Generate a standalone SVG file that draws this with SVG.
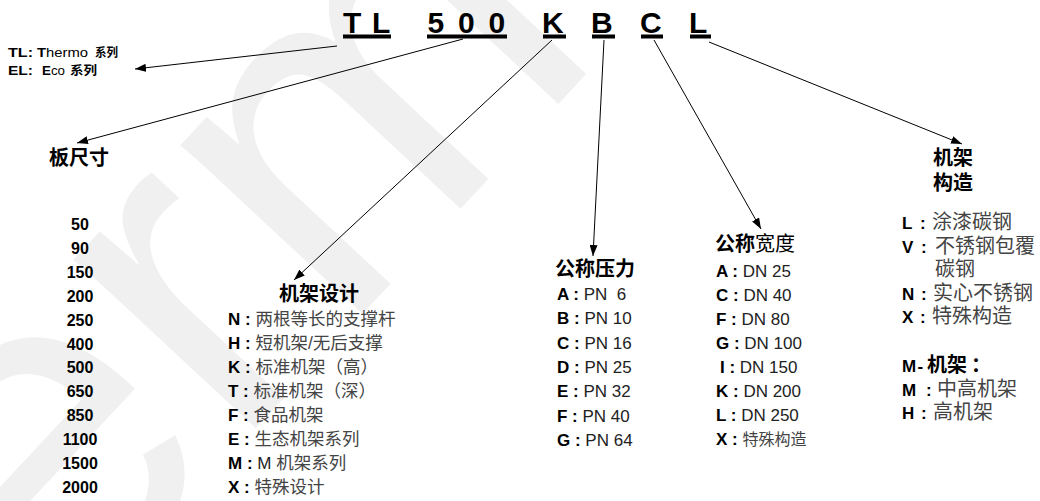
<svg xmlns="http://www.w3.org/2000/svg" width="1040" height="501" viewBox="0 0 1040 501">
<style>
text{font-family:"Liberation Sans","Noto Sans CJK SC",Arial,sans-serif;fill:#000}
.hdr{font-size:30px;font-weight:bold}
.ttl{font-size:20px;font-weight:bold}
.num{font-size:16px;font-weight:bold;text-anchor:middle}
.row{font-size:17px}
.k{font-weight:bold;fill:#000}
.v{font-weight:normal;fill:#222}
.cf{font-size:17.5px;fill:#444}
.cw{font-size:16px;fill:#444}
.cs{font-size:20px;fill:#444}
.sm{font-size:12.5px}
.b{font-weight:bold}
.wm{font-size:470px;fill:#f0f0f0}
.ln{stroke:#000;stroke-width:1;fill:none;marker-end:url(#ah)}
</style>
<defs>
<marker id="ah" markerUnits="userSpaceOnUse" markerWidth="11" markerHeight="8" refX="11" refY="4" orient="auto">
<path d="M0,0 L11,4 L0,8 Z" fill="#000"/>
</marker>
</defs>
<rect width="1040" height="501" fill="#fff"/>
<g id="watermark"><text class="wm" transform="translate(-212,930) rotate(-47)">thermo</text></g>

<g id="code">
<text class="hdr" x="343 372 427.5 458 488.5 542 591 640 689" y="32.5">TL500KBCL</text>
<rect x="343" y="34.5" width="48" height="4"/>
<rect x="427" y="34.5" width="80" height="4"/>
<rect x="543" y="34.5" width="23" height="4"/>
<rect x="592" y="34.5" width="23" height="4"/>
<rect x="641" y="34.5" width="22" height="4"/>
<rect x="690" y="34.5" width="21" height="4"/>
</g>

<g id="connectors">
<line class="ln" x1="337" y1="46" x2="135" y2="69"/>
<line class="ln" x1="463" y1="39" x2="77" y2="143"/>
<line class="ln" x1="552" y1="40" x2="294" y2="280"/>
<line class="ln" x1="604" y1="40" x2="593" y2="256"/>
<line class="ln" x1="654" y1="40" x2="761" y2="229"/>
<line class="ln" x1="709" y1="42" x2="962" y2="144"/>
</g>

<g id="series">
<text class="sm b" x="8" y="57" textLength="25" lengthAdjust="spacingAndGlyphs">TL:</text>
<text class="sm" x="37" y="57" textLength="51" lengthAdjust="spacingAndGlyphs"><tspan class="b">T</tspan>hermo</text>
<text class="sm b" x="95" y="57" textLength="23" lengthAdjust="spacingAndGlyphs">系列</text>
<text class="sm b" x="8" y="75" textLength="25" lengthAdjust="spacingAndGlyphs">EL:</text>
<text class="sm" x="42" y="75" textLength="23" lengthAdjust="spacingAndGlyphs"><tspan class="b">E</tspan>co</text>
<text class="sm b" x="70" y="75" textLength="27" lengthAdjust="spacingAndGlyphs">系列</text>
</g>

<g id="plate-size">
<text class="ttl" x="49" y="165">板尺寸</text>
<text class="num" x="80" y="230">50</text>
<text class="num" x="80" y="254">90</text>
<text class="num" x="80" y="278">150</text>
<text class="num" x="80" y="302">200</text>
<text class="num" x="80" y="326">250</text>
<text class="num" x="80" y="350">400</text>
<text class="num" x="80" y="373">500</text>
<text class="num" x="80" y="397">650</text>
<text class="num" x="80" y="421">850</text>
<text class="num" x="80" y="445">1100</text>
<text class="num" x="80" y="469">1500</text>
<text class="num" x="80" y="493">2000</text>
</g>

<g id="frame-design">
<text class="ttl" x="319" y="301" text-anchor="middle">机架设计</text>
<text class="row" x="228" y="325"><tspan class="k">N : </tspan><tspan class="cf">两根等长的支撑杆</tspan></text>
<text class="row" x="228" y="349"><tspan class="k">H : </tspan><tspan class="cf">短机架/无后支撑</tspan></text>
<text class="row" x="228" y="373"><tspan class="k">K : </tspan><tspan class="cf">标准机架（高）</tspan></text>
<text class="row" x="228" y="397"><tspan class="k">T : </tspan><tspan class="cf">标准机架（深）</tspan></text>
<text class="row" x="228" y="421"><tspan class="k">F : </tspan><tspan class="cf">食品机架</tspan></text>
<text class="row" x="228" y="445"><tspan class="k">E : </tspan><tspan class="cf">生态机架系列</tspan></text>
<text class="row" x="228" y="469"><tspan class="k">M : </tspan><tspan class="v">M </tspan><tspan class="cf">机架系列</tspan></text>
<text class="row" x="228" y="493"><tspan class="k">X : </tspan><tspan class="cf">特殊设计</tspan></text>
</g>

<g id="pressure">
<text class="ttl" x="555" y="276">公称压力</text>
<text class="row" x="557" y="300"><tspan class="k">A : </tspan><tspan class="v">PN&#160;&#160;6</tspan></text>
<text class="row" x="557" y="324"><tspan class="k">B : </tspan><tspan class="v">PN 10</tspan></text>
<text class="row" x="557" y="349"><tspan class="k">C : </tspan><tspan class="v">PN 16</tspan></text>
<text class="row" x="557" y="373"><tspan class="k">D : </tspan><tspan class="v">PN 25</tspan></text>
<text class="row" x="557" y="397"><tspan class="k">E : </tspan><tspan class="v">PN 32</tspan></text>
<text class="row" x="557" y="422"><tspan class="k">F : </tspan><tspan class="v">PN 40</tspan></text>
<text class="row" x="557" y="446"><tspan class="k">G : </tspan><tspan class="v">PN 64</tspan></text>
</g>

<g id="width">
<text class="ttl" x="715" y="251">公称<tspan font-weight="normal">宽度</tspan></text>
<text class="row" x="716" y="277"><tspan class="k">A : </tspan><tspan class="v">DN 25</tspan></text>
<text class="row" x="716" y="301"><tspan class="k">C : </tspan><tspan class="v">DN 40</tspan></text>
<text class="row" x="716" y="325"><tspan class="k">F : </tspan><tspan class="v">DN 80</tspan></text>
<text class="row" x="716" y="349"><tspan class="k">G : </tspan><tspan class="v">DN 100</tspan></text>
<text class="row" x="720" y="373"><tspan class="k">I : </tspan><tspan class="v">DN 150</tspan></text>
<text class="row" x="716" y="397"><tspan class="k">K : </tspan><tspan class="v">DN 200</tspan></text>
<text class="row" x="716" y="421"><tspan class="k">L : </tspan><tspan class="v">DN 250</tspan></text>
<text class="row" x="716" y="445"><tspan class="k">X : </tspan><tspan class="cw">特殊构造</tspan></text>
</g>

<g id="structure">
<text class="ttl" x="953" y="165" text-anchor="middle">机架</text>
<text class="ttl" x="953" y="190" text-anchor="middle">构造</text>
<text class="row" y="229"><tspan class="k" x="902">L</tspan><tspan class="k" x="920">:</tspan><tspan class="cs" x="932">涂漆碳钢</tspan></text>
<text class="row" y="253"><tspan class="k" x="902">V</tspan><tspan class="k" x="921">:</tspan><tspan class="cs" x="935">不锈钢包覆</tspan></text>
<text class="row" y="276"><tspan class="cs" x="935">碳钢</tspan></text>
<text class="row" y="300"><tspan class="k" x="902">N</tspan><tspan class="k" x="921">:</tspan><tspan class="cs" x="933">实心不锈钢</tspan></text>
<text class="row" y="323"><tspan class="k" x="902">X</tspan><tspan class="k" x="920">:</tspan><tspan class="cs" x="932">特殊构造</tspan></text>
<text class="row k" y="372"><tspan x="902">M</tspan><tspan x="917.5">-</tspan><tspan x="927" font-size="20">机架</tspan><tspan x="971" font-size="20">：</tspan></text>
<text class="row" y="395.5"><tspan class="k" x="902">M</tspan><tspan class="k" x="926">:</tspan><tspan class="cs" x="937">中高机架</tspan></text>
<text class="row" y="419"><tspan class="k" x="902">H</tspan><tspan class="k" x="921">:</tspan><tspan class="cs" x="933">高机架</tspan></text>
</g>
</svg>
